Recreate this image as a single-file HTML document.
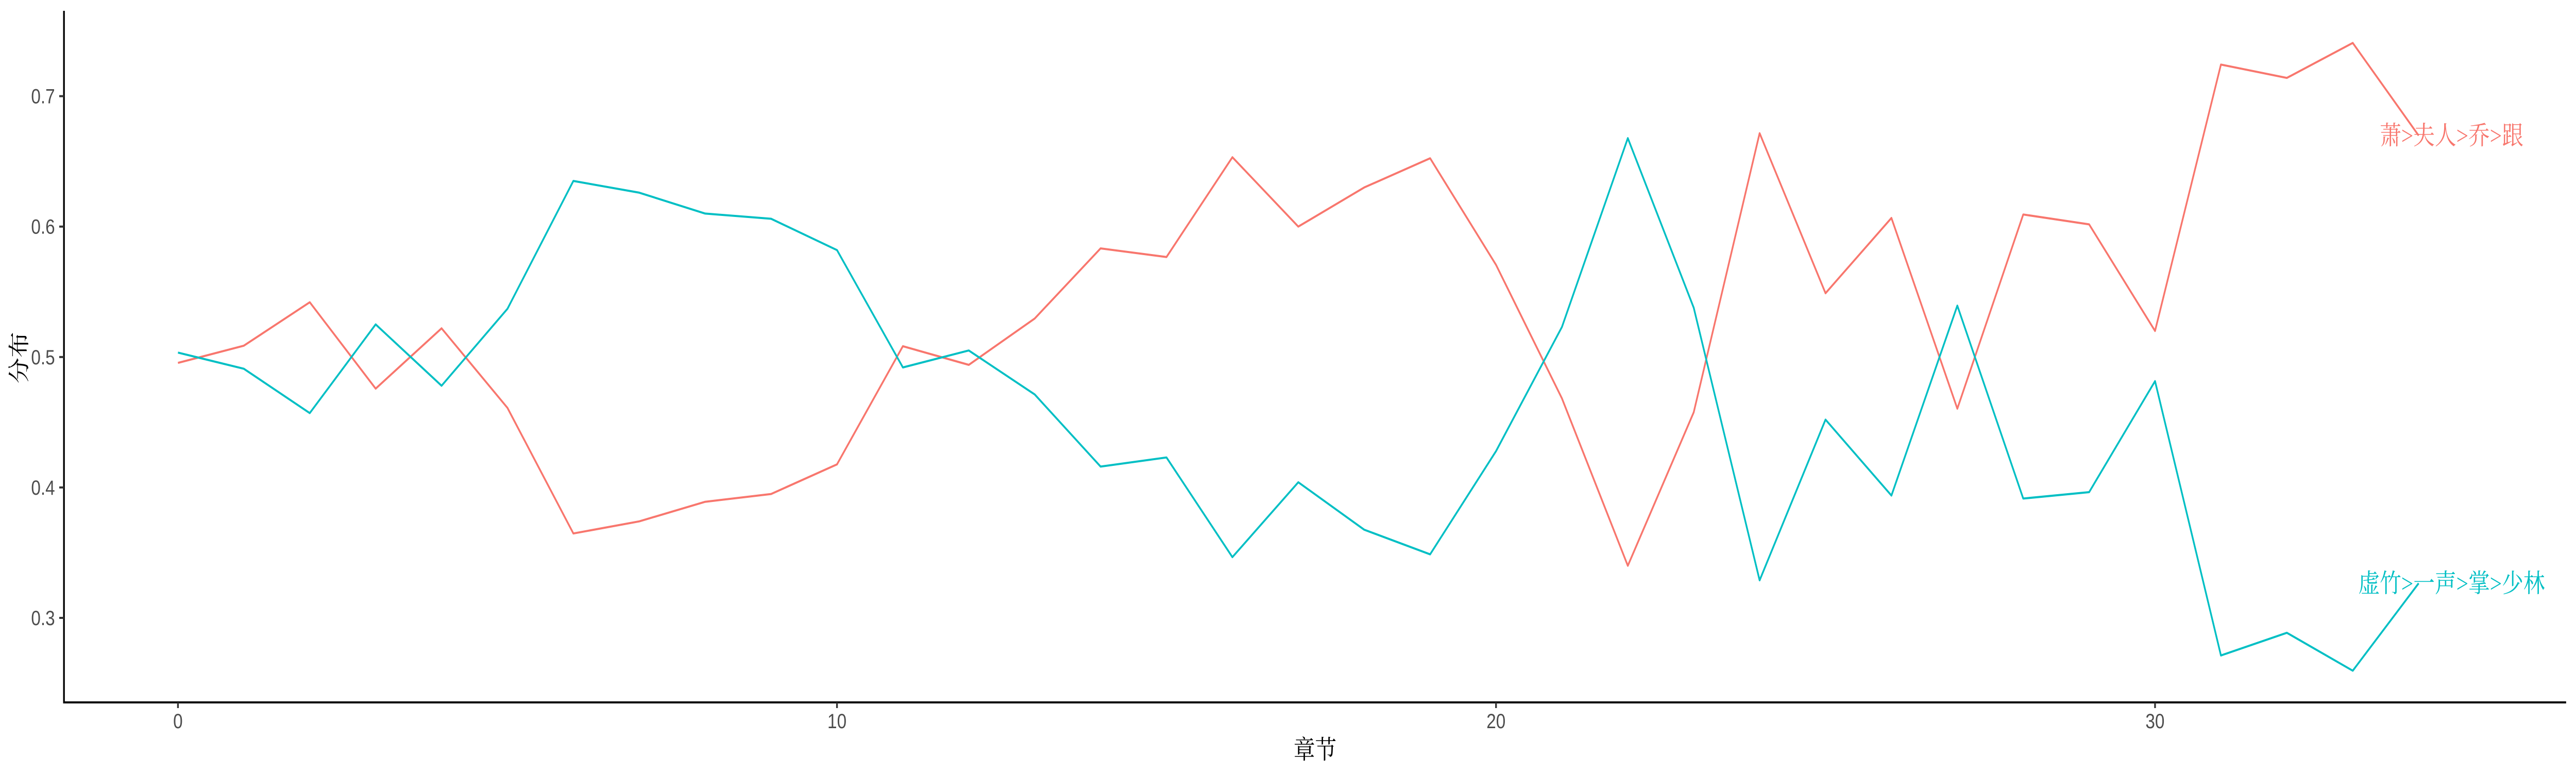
<!DOCTYPE html>
<html><head><meta charset="utf-8"><style>
html,body{margin:0;padding:0;background:#fff;overflow:hidden;width:100%;height:100%;}
svg{display:block;width:100vw;height:100vh;}
</style></head><body>
<svg id="chart" viewBox="0 0 6000 1500" preserveAspectRatio="none" xmlns="http://www.w3.org/2000/svg">
<rect width="6000" height="1500" fill="#fff"/>
<g id="plot"></g>
</svg>
<script>
const chapters = [0,1,2,3,4,5,6,7,8,9,10,11,12,13,14,15,16,17,18,19,20,21,22,23,24,25,26,27,28,29,30,31,32,33,34];
const seriesRed = [0.4955,0.5087,0.542,0.4758,0.522,0.461,0.3647,0.374,0.389,0.395,0.4177,0.5083,0.494,0.5295,0.5833,0.5767,0.6532,0.600,0.630,0.6524,0.5707,0.4683,0.340,0.4576,0.6716,0.5489,0.6066,0.4604,0.6093,0.6017,0.520,0.7242,0.714,0.7408,0.6698];
const seriesCyan = [0.5034,0.491,0.457,0.525,0.478,0.537,0.635,0.626,0.610,0.606,0.582,0.492,0.505,0.4713,0.416,0.423,0.3466,0.404,0.3676,0.3487,0.4278,0.523,0.6678,0.5378,0.3288,0.452,0.3938,0.5394,0.3915,0.3964,0.4815,0.2712,0.2886,0.2595,0.3265];
const seriesNames = ["萧>夫人>乔>跟","虚竹>一声>掌>少林"];
const xTicks = [0,10,20,30];
const yTicks = [0.3,0.4,0.5,0.6,0.7];
const yTickLabels = ["0.3","0.4","0.5","0.6","0.7"];

const NS = "http://www.w3.org/2000/svg";
const g = document.getElementById('plot');
const X0 = 149, X1 = 5977, Y0 = 21, Y1 = 1363;
function sx(v){ return 414.5 + v * 153.5; }
function sy(v){ return 186.6 + (0.7 - v) * 2531; }
function el(tag, attrs, text){
  const e = document.createElementNS(NS, tag);
  for (const k in attrs) e.setAttribute(k, attrs[k]);
  if (text !== undefined) e.textContent = text;
  g.appendChild(e);
  return e;
}
let a = el('line',{x1:X0,y1:Y0,x2:X0,y2:Y1+2,stroke:'#000','stroke-width':4});


a = el('line',{x1:X0-2,y1:Y1,x2:X1,y2:Y1,stroke:'#000','stroke-width':4});


yTicks.forEach((v,i)=>{
  const t = el('line',{x1:X0-11,y1:sy(v),x2:X0,y2:sy(v),stroke:'#333','stroke-width':4});
  
  
  const l = el('text',{x:128,y:sy(v)+14,'text-anchor':'end','font-family':'Liberation Sans, sans-serif','font-size':40,fill:'#4d4d4d'}, yTickLabels[i]);
  
  
});
xTicks.forEach(v=>{
  const t = el('line',{x1:sx(v),y1:Y1,x2:sx(v),y2:Y1+11,stroke:'#333','stroke-width':4});
  
  
  const l = el('text',{x:sx(v),y:1413,'text-anchor':'middle','font-family':'Liberation Sans, sans-serif','font-size':40,fill:'#4d4d4d'}, String(v));
  
  
});
let t = el('text',{x:3063,y:1472,'text-anchor':'middle','font-family':'Liberation Serif, Noto Serif CJK SC, serif','font-size':50,fill:'#000'},'章节');


t = el('text',{x:0,y:0,transform:'translate(62,694) rotate(-90)','text-anchor':'middle','font-family':'Liberation Serif, Noto Serif CJK SC, serif','font-size':50,fill:'#000'},'分布');



function drawSeries(vals, color, name, label){
  const d = vals.map((v,i)=>(i?'L':'M')+sx(chapters[i]).toFixed(1)+','+sy(v).toFixed(1)).join(' ');
  const p = el('path',{d:d,fill:'none',stroke:color,'stroke-width':4,'stroke-linejoin':'round'});
  
  
  const last = vals.length-1;
  const l = el('text',{x:sx(chapters[last]+0.5),y:sy(vals[last])+17,'text-anchor':'middle','font-family':'Liberation Serif, Noto Serif CJK SC, serif','font-size':50,fill:color}, label);
  
  
}
drawSeries(seriesRed,'#F8766D','series-red',seriesNames[0]);
drawSeries(seriesCyan,'#00BFC4','series-cyan',seriesNames[1]);
</script>
</body></html>
